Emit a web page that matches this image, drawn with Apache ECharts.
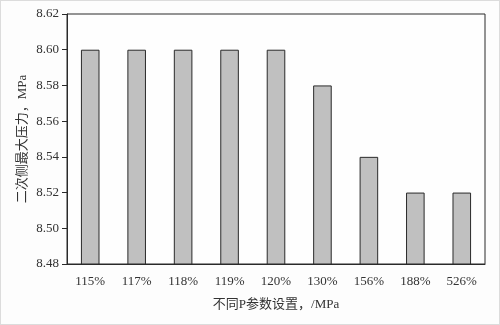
<!DOCTYPE html>
<html>
<head>
<meta charset="utf-8">
<script src="https://cdn.jsdelivr.net/npm/echarts@6/dist/echarts.min.js"></script>
<style>
html,body{margin:0;padding:0;background:#fdfdfd;}
#c{width:498px;height:323px;border:1px solid #dcdcdc;background:#fdfdfd;}
</style>
</head>
<body>
<div id="c"></div>
<script>
const categories = ['115%','117%','118%','119%','120%','130%','156%','188%','526%'];
const values = [8.60, 8.60, 8.60, 8.60, 8.60, 8.58, 8.54, 8.52, 8.52];
const yMin = 8.48, yMax = 8.62, yStep = 0.02;

const font = '"Liberation Serif", "Noto Sans CJK SC", serif';
const chart = echarts.init(document.getElementById('c'));
chart.setOption({
  animation: false,
  backgroundColor: '#fdfdfd',
  grid: {left: 66, right: 14, top: 13, bottom: 60, show: true, borderColor: '#2a2a2a', borderWidth: 1, backgroundColor: '#fefefe'},
  xAxis: {
    type: 'category', data: categories,
    name: '不同P参数设置，/MPa', nameLocation: 'middle', nameGap: 34,
    nameMoveOverlap: false,
    nameTextStyle: {fontFamily: font, fontSize: 13, color: '#333'},
    axisLine: {lineStyle: {color: '#2a2a2a', width: 1}},
    axisTick: {show: false},
    axisLabel: {fontFamily: font, fontSize: 13, color: '#333', margin: 11}
  },
  yAxis: {
    type: 'value', min: yMin, max: yMax, interval: yStep,
    name: '二次侧最大压力，MPa', nameLocation: 'middle', nameGap: 38,
    nameMoveOverlap: false,
    nameTextStyle: {fontFamily: font, fontSize: 13, color: '#333'},
    axisLine: {show: true, lineStyle: {color: '#2a2a2a', width: 1}},
    axisTick: {show: true, inside: false, length: 5, lineStyle: {color: '#2a2a2a'}},
    splitLine: {show: false},
    axisLabel: {fontFamily: font, fontSize: 13, color: '#333', margin: 8,
      formatter: v => v.toFixed(2)}
  },
  series: [{
    type: 'bar', data: values, barWidth: '40%',
    itemStyle: {color: '#c0c0c0', borderColor: '#2a2a2a', borderWidth: 1}
  }]
});
</script>
</body>
</html>
